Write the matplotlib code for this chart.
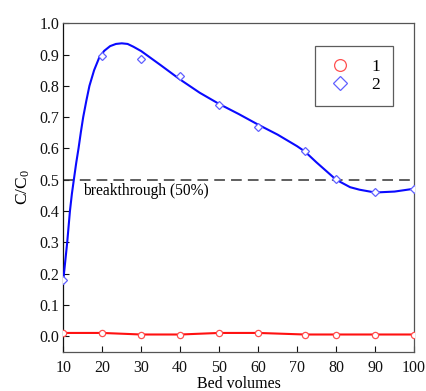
import matplotlib
matplotlib.use("Agg")
import matplotlib.pyplot as plt

plt.rcParams['font.family'] = ['Liberation Serif', 'DejaVu Serif']
plt.rcParams['mathtext.fontset'] = 'custom'
plt.rcParams['mathtext.rm'] = 'Liberation Serif'
plt.rcParams['mathtext.it'] = 'Liberation Serif:italic'

# data
bed_volumes = [10, 20, 30, 40, 50, 60, 72, 80, 90, 100]
c_series1 = [0.01, 0.01, 0.005, 0.005, 0.01, 0.01, 0.005, 0.005, 0.005, 0.005]
c_series2 = [0.179, 0.897, 0.887, 0.832, 0.740, 0.668, 0.591, 0.502, 0.462, 0.471]

# fitted curve for series 2
fit_x = [10, 10.5, 11, 11.7, 12.2, 12.7, 13.3, 13.9, 14.5, 15.1, 15.9, 16.7, 17.9,
         19.2, 20.5, 22, 23.5, 25, 26.5, 28, 30, 35, 40, 45, 50, 55, 60, 65, 70,
         72, 75, 80, 83.6, 86, 90, 95, 100]
fit_y = [0.18, 0.24, 0.30, 0.40, 0.455, 0.50, 0.553, 0.60, 0.652, 0.70, 0.752,
         0.80, 0.85, 0.89, 0.912, 0.927, 0.934, 0.936, 0.934, 0.925, 0.911, 0.866,
         0.82, 0.778, 0.742, 0.71, 0.676, 0.644, 0.607, 0.59, 0.555, 0.50, 0.476,
         0.468, 0.459, 0.462, 0.471]

xticks = [10, 20, 30, 40, 50, 60, 70, 80, 90, 100]
yticks = [0.0, 0.1, 0.2, 0.3, 0.4, 0.5, 0.6, 0.7, 0.8, 0.9, 1.0]

fig = plt.figure(figsize=(4.27, 3.91), dpi=100)
ax = fig.add_axes([0.1483, 0.1005, 0.8213, 0.8399])

# series 1 (red) - line through points
ax.plot(bed_volumes, c_series1, color='#ff1010', linewidth=1.5, zorder=3)
ax.plot(bed_volumes, c_series1, linestyle='none', marker='o', markersize=4.5,
        markerfacecolor='white', markeredgecolor='#ff5050', markeredgewidth=0.9, zorder=4)

# series 2 (blue) - fit curve plus points
ax.plot(fit_x, fit_y, color='#0a0aff', linewidth=1.5, zorder=3)
ax.plot(bed_volumes, c_series2, linestyle='none', marker='D', markersize=4,
        markerfacecolor='white', markeredgecolor='#6060ff', markeredgewidth=0.9, zorder=4)

# breakthrough line
ax.axhline(0.5, color='#333333', linestyle=(0, (7, 4)), linewidth=1.1, zorder=2)
ax.text(15.0, 0.465, 'breakthrough (50%)', fontsize=11.2, va='center', ha='left')

# legend
h1, = ax.plot([], [], linestyle='none', marker='o', markersize=8.5,
              markerfacecolor='white', markeredgecolor='#ff5050', markeredgewidth=0.9)
h2, = ax.plot([], [], linestyle='none', marker='D', markersize=7.5,
              markerfacecolor='white', markeredgecolor='#6060ff', markeredgewidth=0.9)
leg = ax.legend([h1, h2], ['1', '2'], loc='upper right', bbox_to_anchor=(0.94, 0.932),
                fontsize=12.5, frameon=True, fancybox=False, borderpad=0.75,
                labelspacing=0.1, handletextpad=1.1, borderaxespad=0,
                handlelength=1.4)
leg.get_frame().set_edgecolor('#333333')
leg.get_frame().set_linewidth(0.9)

ax.set_xlim(10, 100)
ax.set_ylim(-0.05, 1.0)
ax.set_xticks(xticks)
ax.set_yticks(yticks)
ax.set_yticklabels([f'{v:.1f}' for v in yticks])
ax.tick_params(direction='in', length=4, width=0.8, labelsize=11.5, colors='#111111')
ax.tick_params(axis='x', pad=6)
ax.tick_params(axis='y', pad=3)

ax.spines['left'].set_color('#111111')
for s in ['top', 'right', 'bottom']:
    ax.spines[s].set_color('#555555')
for s in ax.spines.values():
    s.set_linewidth(0.9)

ax.set_xlabel('Bed volumes', fontsize=11.5, labelpad=0)
ax.set_ylabel(r'C/C$_0$', fontsize=12.5, labelpad=5)

plt.savefig('out.png', dpi=100)
